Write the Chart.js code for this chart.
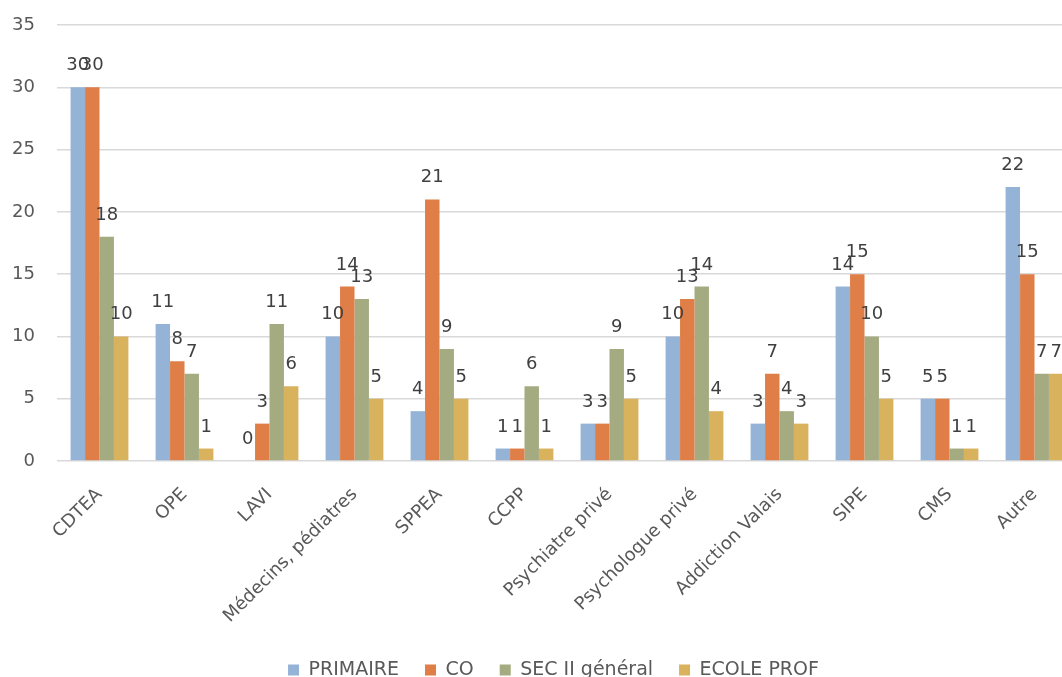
<!DOCTYPE html>
<html>
<head>
<meta charset="utf-8">
<script src="https://cdn.jsdelivr.net/npm/chart.js@4.4.1/dist/chart.umd.min.js"></script>
<style>
  html, body { margin: 0; padding: 0; background: #fff; overflow: hidden; }
  #wrap { width: 1062px; height: 677px; overflow: hidden; }
</style>
</head>
<body>
<div id="wrap">
  <canvas id="orient_bar_chart" width="1077" height="677"></canvas>
</div>
<script>
const categories = [
  "CDTEA", "OPE", "LAVI", "Médecins, pédiatres", "SPPEA", "CCPP",
  "Psychiatre privé", "Psychologue privé", "Addiction Valais", "SIPE", "CMS", "Autre",
];
const primaire = [30, 11, 0, 10, 4, 1, 3, 10, 3, 14, 5, 22];
const co = [30, 8, 3, 14, 21, 1, 3, 13, 7, 15, 5, 15];
const secII = [18, 7, 11, 13, 9, 6, 9, 14, 4, 10, 1, 7];
const ecoleProf = [10, 1, 6, 5, 5, 1, 5, 4, 3, 5, 1, 7];
const yTicks = [0, 5, 10, 15, 20, 25, 30, 35];

const FONT = "'DejaVu Sans', sans-serif";

// value labels above each bar
const valueLabels = {
  id: "valueLabels",
  afterDatasetsDraw(chart) {
    const ctx = chart.ctx;
    ctx.save();
    ctx.font = "18px " + FONT;
    ctx.fillStyle = "#404040";
    ctx.textAlign = "center";
    ctx.textBaseline = "alphabetic";
    chart.data.datasets.forEach((ds, i) => {
      chart.getDatasetMeta(i).data.forEach((bar, j) => {
        ctx.fillText(String(ds.data[j]), bar.x, bar.y - 17);
      });
    });
    ctx.restore();
  },
};

// the original legend sits lower and a little right, partly cut by the edge
const legendShift = {
  id: "legendShift",
  afterLayout(chart) {
    const lg = chart.legend;
    lg.left += 15;
    lg.right += 15;
    lg.top += 12.5;
    lg.bottom += 12.5;
  },
};

const ds = (label, data, color) => ({
  label: label,
  data: data,
  backgroundColor: color,
  borderWidth: 0,
});

new Chart("orient_bar_chart", {
  type: "bar",
  data: {
    labels: categories,
    datasets: [
      ds("PRIMAIRE", primaire, "#95B3D7"),
      ds("CO", co, "#DF7E47"),
      ds("SEC II général", secII, "#A5AB80"),
      ds("ECOLE PROF", ecoleProf, "#D9B25E"),
    ],
  },
  options: {
    responsive: false,
    devicePixelRatio: 1,
    animation: false,
    layout: { padding: 0 },
    datasets: {
      bar: { categoryPercentage: 0.68, barPercentage: 1 },
    },
    plugins: {
      tooltip: { enabled: false },
      legend: {
        position: "bottom",
        labels: {
          font: { family: FONT, size: 19 },
          color: "#595959",
          boxWidth: 11,
          boxHeight: 11,
          padding: 26,
        },
      },
    },
    scales: {
      x: {
        grid: { display: false },
        border: { display: false },
        ticks: {
          font: { family: FONT, size: 18 },
          color: "#595959",
          maxRotation: 45,
          minRotation: 45,
          autoSkip: false,
          padding: 15,
        },
        afterFit: (scale) => {
          scale.height = 161;
        },
      },
      y: {
        min: 0,
        max: 35,
        afterBuildTicks: (scale) => {
          scale.ticks = yTicks.map((v) => ({ value: v }));
        },
        grid: { color: "#D9D9D9", lineWidth: 1.5, drawTicks: false },
        border: { display: false },
        ticks: {
          font: { family: FONT, size: 18 },
          color: "#595959",
          padding: 22,
        },
        afterFit: (scale) => {
          scale.width = 57;
          scale.paddingTop = 25;
          scale.paddingBottom = 0;
        },
      },
    },
  },
  plugins: [valueLabels, legendShift],
});
</script>
</body>
</html>
